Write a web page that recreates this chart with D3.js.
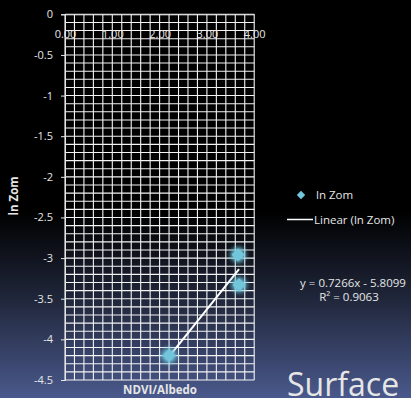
<!DOCTYPE html>
<html><head><meta charset="utf-8">
<script src="https://cdn.jsdelivr.net/npm/d3@7"></script>
<style>
html,body{margin:0;padding:0;background:#000;}
svg{display:block;}
text{font-family:"Open Sans","Lato",sans-serif;fill:#e6e6e6;}
</style></head>
<body>
<script>
const xValues = [2.20, 3.66, 3.68];
const yValues = [-4.20, -2.96, -3.33];
const xTicks = [0, 1, 2, 3, 4];
const yTicks = [0, -0.5, -1, -1.5, -2, -2.5, -3, -3.5, -4, -4.5];
const slope = 0.7266, intercept = -5.8099;
const equationLabel = "y = 0.7266x - 5.8099";
const r2Label = "R² = 0.9063";
const seriesName = "ln Zom";
const trendName = "Linear (ln Zom)";
const xTitle = "NDVI/Albedo";
const yTitle = "ln Zom";
const slideTitle = "Surface";

const W = 411, H = 398;
const svg = d3.select("body").append("svg").attr("width", W).attr("height", H);
const defs = svg.append("defs");
const bg = defs.append("linearGradient").attr("id","bg").attr("x1",0).attr("x2",0).attr("y1",0).attr("y2",1);
bg.append("stop").attr("offset","0%").attr("stop-color","#000");
bg.append("stop").attr("offset","53%").attr("stop-color","#000");
bg.append("stop").attr("offset","75%").attr("stop-color","#20263a");
bg.append("stop").attr("offset","100%").attr("stop-color","#4a598c");
svg.append("rect").attr("width",W).attr("height",H).attr("fill","url(#bg)");

const glow = defs.append("filter").attr("id","glow").attr("x","-150%").attr("y","-150%").attr("width","400%").attr("height","400%");
glow.append("feGaussianBlur").attr("in","SourceGraphic").attr("stdDeviation",3.2).attr("result","b");
const m = glow.append("feMerge");
m.append("feMergeNode").attr("in","b");
m.append("feMergeNode").attr("in","b");
m.append("feMergeNode").attr("in","b");
m.append("feMergeNode").attr("in","SourceGraphic");

const x = d3.scaleLinear().domain([0,4]).range([65,254.2]);
const y = d3.scaleLinear().domain([0,-4.5]).range([14.3,380]);

// gridlines
const g = svg.append("g");
const xGrid = d3.range(0, 4.0001, 0.2);
const yGrid = d3.range(0, -4.5001, -0.1);
g.selectAll(".vg").data(xGrid).join("line")
  .attr("x1",d=>x(d)).attr("x2",d=>x(d)).attr("y1",y(0)).attr("y2",y(-4.5))
  .attr("stroke","#f4f4f4").attr("stroke-width",1.1);
g.selectAll(".hg").data(yGrid).join("line")
  .attr("x1",x(0)).attr("x2",x(4)).attr("y1",d=>y(d)).attr("y2",d=>y(d))
  .attr("stroke","#f4f4f4").attr("stroke-width",1.1);

// y axis
const yAxis = d3.axisLeft(y).tickValues(yTicks).tickSize(4).tickPadding(8)
  .tickFormat(d=>String(d));
const ya = svg.append("g").attr("transform",`translate(${x(0)},0)`).call(yAxis);
ya.select(".domain").attr("stroke","#e6e6e6");
ya.selectAll(".tick line").attr("stroke","#e6e6e6");
ya.selectAll(".tick text").attr("fill","#e6e6e6").style("font-size","11px").attr("font-family","Open Sans");

// x axis (crosses at y=0, top)
const xAxis = d3.axisBottom(x).tickValues(xTicks).tickSize(0).tickPadding(16).tickFormat(d3.format(".2f"));
const xa = svg.append("g").attr("transform",`translate(0,${y(0)})`).call(xAxis);
xa.select(".domain").attr("stroke","#e6e6e6");
xa.selectAll(".tick text").attr("fill","#e6e6e6").style("font-size","11px").attr("font-family","Open Sans");

// trendline
const xMin = d3.min(xValues), xMax = d3.max(xValues);
svg.append("line")
  .attr("x1",x(xMin)).attr("y1",y(slope*xMin+intercept))
  .attr("x2",x(xMax)).attr("y2",y(slope*xMax+intercept))
  .attr("stroke","#fff").attr("stroke-width",2);

// points
const diamond = d3.symbol().type(d3.symbolDiamond2).size(110);
svg.selectAll(".pt").data(xValues.map((v,i)=>[v,yValues[i]])).join("path")
  .attr("d",diamond)
  .attr("transform",d=>`translate(${x(d[0])},${y(d[1])})`)
  .attr("fill","#72c6dc").attr("filter","url(#glow)");

// axis titles
svg.append("text").attr("x",160).attr("y",394).attr("text-anchor","middle")
  .style("font-size","11.5px").style("font-weight","bold").text(xTitle);
svg.append("text").attr("transform","translate(18,196) rotate(-90)").attr("text-anchor","middle")
  .style("font-size","11.5px").style("font-weight","bold").text(yTitle);

// legend
svg.append("path").attr("d",d3.symbol().type(d3.symbolDiamond2).size(45))
  .attr("transform","translate(301,195)").attr("fill","#72c6dc");
svg.append("text").attr("x",316).attr("y",199).style("font-size","11.5px").text(seriesName);
svg.append("line").attr("x1",287).attr("x2",313).attr("y1",219.5).attr("y2",219.5).attr("stroke","#fff").attr("stroke-width",1.5);
svg.append("text").attr("x",314).attr("y",223.5).style("font-size","11.5px").text(trendName);

// equation
svg.append("text").attr("x",353).attr("y",287).attr("text-anchor","middle").style("font-size","11.5px").text(equationLabel);
svg.append("text").attr("x",349).attr("y",301).attr("text-anchor","middle").style("font-size","11.5px").text(r2Label);

// slide title
svg.append("text").attr("x",287).attr("y",396).style("font-size","32px").attr("fill","#f0f0f0").text(slideTitle);
</script>
</body></html>
